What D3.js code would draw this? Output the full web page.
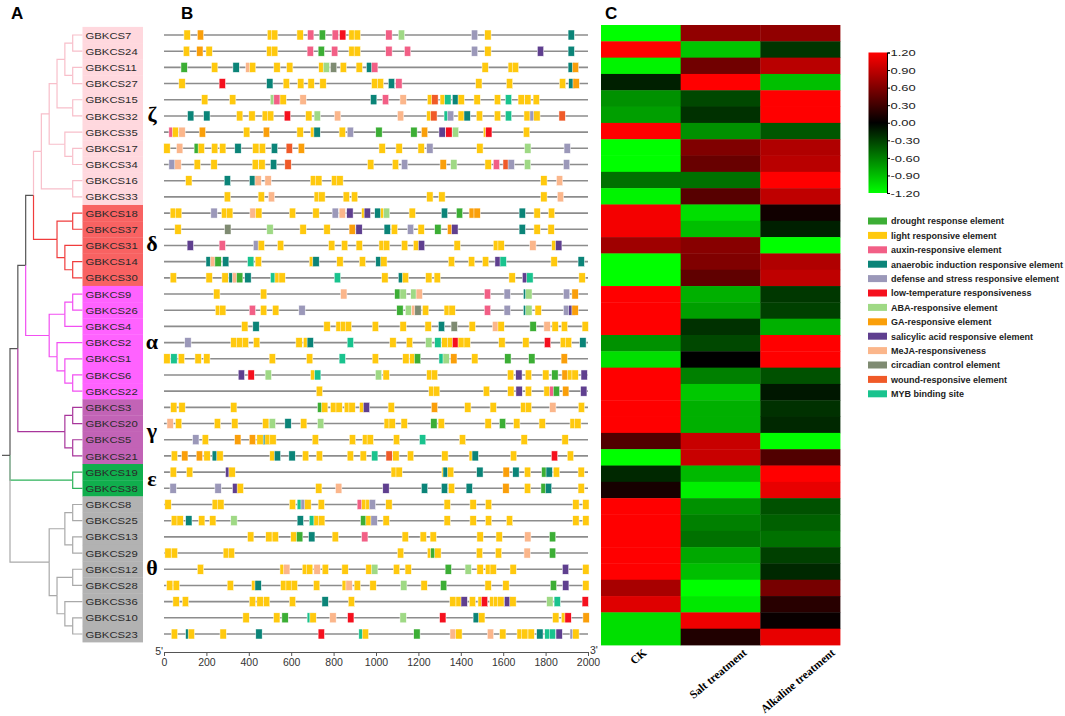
<!DOCTYPE html>
<html>
<head>
<meta charset="utf-8">
<script src="https://cdn.jsdelivr.net/npm/d3@7"></script>
<style>
  body { margin: 0; background: #fff; }
  text { font-family: Arial, "Liberation Sans", sans-serif; }
</style>
</head>
<body>
<svg id="fig" width="1065" height="716"></svg>
<script>
// ---- data ----
const genes = ["GBKCS7","GBKCS24","GBKCS11","GBKCS27","GBKCS15","GBKCS32","GBKCS35","GBKCS17","GBKCS34","GBKCS16","GBKCS33",
  "GBKCS18","GBKCS37","GBKCS31","GBKCS14","GBKCS30",
  "GBKCS9","GBKCS26","GBKCS4","GBKCS2","GBKCS1","GBKCS6","GBKCS22",
  "GBKCS3","GBKCS20","GBKCS5","GBKCS21",
  "GBKCS19","GBKCS38",
  "GBKCS8","GBKCS25","GBKCS13","GBKCS29","GBKCS12","GBKCS28","GBKCS36","GBKCS10","GBKCS23"];

const cladeSymbols = ["ζ","δ","α","γ","ε","θ"];
const cladeSizes = [11, 5, 7, 4, 2, 9];
const cladeBranchColors = ["#f8bfca","#f03c3c","#f24ff2","#a8359b","#2eb25a","#a9a9a9"];
const cladeBoxColors = ["#ffd8de","#f86262","#ff62ff","#c263b6","#10ae4d","#b2b2b2"];

// nested [level, child, child] ; leaves are gene names
const tree = [9,
  [8,
    [7,
      [6,
        [5,
          [4,
            [3, [2, [1,"GBKCS7","GBKCS24"], [1,"GBKCS11","GBKCS27"]], [1,"GBKCS15","GBKCS32"]],
            [2, "GBKCS35", [1,"GBKCS17","GBKCS34"]]],
          [1,"GBKCS16","GBKCS33"]],
        [3, [1,"GBKCS18","GBKCS37"], [2,"GBKCS31",[1,"GBKCS14","GBKCS30"]]]],
      [4, [2, [1,"GBKCS9","GBKCS26"], "GBKCS4"], [3, "GBKCS2", [2, "GBKCS1", [1,"GBKCS6","GBKCS22"]]]]],
    [2, [1,"GBKCS3","GBKCS20"], [1,"GBKCS5","GBKCS21"]]],
  [1,"GBKCS19","GBKCS38"],
  [4, [2, [1,"GBKCS8","GBKCS25"], [1,"GBKCS13","GBKCS29"]],
      [3, [1,"GBKCS12","GBKCS28"], [2,"GBKCS36",[1,"GBKCS10","GBKCS23"]]]]];

const elementNames = ["drought response element","light responsive element","auxin-responsive element",
  "anaerobic induction responsive element","defense and stress responsive element","low-temperature responsiveness",
  "ABA-responsive element","GA-responsive element","salicylic acid responsive element","MeJA-responsiveness",
  "circadian control element","wound-responsive element","MYB binding site"];
const elementCodes = ["D","L","X","N","F","T","A","G","S","M","C","W","Y"];
const elementColors = ["#3cae35","#ffc90e","#f25f86","#0b8478","#9b98b9","#f5101e","#9fd985","#fa9f0a",
  "#5f3f8f","#fbb68b","#7f8b72","#f05a28","#19c38e"];

// cis-element sites per gene (code + position in bp)
const elementSites = [
  "L109 G172 L502 L522 L642 X692 D747 X808 T843 L887 L912 X1061 A1120 F1465 L1528 N1921",
  "L106 G169 L213 L499 L522 X690 D742 X805 L887 L912 X1061 X1149 F1465 L1528 S1776 N1921",
  "D95 L239 N340 M400 L418 L533 L593 L745 A766 C800 L846 L921 N970 X994 L1515 L1638 L1658 N1921 G1941",
  "L85 T275 N499 L577 L645 L694 L750 L994 L1021 N1073 X1108 L1485 L1630 L1880 N1924 G1944",
  "L192 L324 A516 X533 L562 M656 N989 X1045 M1128 L1257 W1278 L1317 Y1339 N1375 L1402 L1477 L1573 Y1625 L1685 L1716 L1756",
  "N126 N202 L357 L415 L478 L503 T582 L683 A723 M819 M1116 L1254 W1273 Y1336 F1352 L1402 N1430 L1488 L1573 Y1625 L1713 F1741 L1759 W1878",
  "X38 L54 M85 G181 L390 G483 L642 L706 N722 L841 F879 D1014 D1179 G1229 S1312 T1344 A1375 L1521 T1532 L1710",
  "L14 M74 D157 L176 L239 L277 N349 L433 L464 N521 W591 G648 L1029 L1109 L1213 F1254 L1490 A1716 F1902",
  "F38 M66 L157 L236 L431 L462 N517 W585 L975 L1092 F1135 G1317 A1367 L1529 X1568 W1614 F1638 A1715 F1899",
  "L117 N299 N418 M444 M491 L705 L730 L805 L830 L1792 M1866",
  "L299 L459 M507 L723 L745 L860 L899 L1254 L1311 L1792 M1870",
  "L44 L69 F236 L286 L310 M420 L447 L606 L717 F808 M841 S877 L947 S959 N1009 L1037 A1050 L1171 N1323 D1394 G1454 G1477 N1690 L1760 L1828",
  "L66 C301 A500 L656 L769 G888 S920 N1053 L1087 F1163 L1213 D1292 G1352 S1372 N1690 L1760 L1826",
  "S124 X275 F436 L459 L550 L791 L852 L921 L1029 L1050 L1135 L1191 S1215 L1383 L1568 L1590 M1740 L1844 S1862",
  "N213 M233 D255 N291 Y409 L445 L700 N717 L830 L936 N1014 L1037 L1356 L1451 L1517 S1576 Y1600 L1840 N1968",
  "L44 L213 L288 N321 M337 D357 N396 Y517 L538 L557 Y818 L1042 N1120 L1139 L1249 L1289 L1642 S1705 Y1726 L1972",
  "L249 L470 M848 D1103 A1128 A1179 M1204 X1526 F1619 N1710 A1721 F1899 G1939",
  "L257 L277 X417 L470 L527 F651 D1113 A1153 M1182 C1198 L1234 L1336 L1359 X1526 F1619 N1710 A1721 L1765 F1899 S1924 G1939",
  "L381 N434 L769 L826 L848 L870 L997 L1128 L1246 N1309 C1369 L1454 M1564 L1590 D1741 M1807 L1845 L1889 L1987",
  "F113 L330 L357 L384 L437 L637 L672 N690 Y879 L1080 L1158 A1249 Y1292 L1325 L1352 T1375 L1402 L1430 L1594 L1707 T1809 L1884 L1908 N1976",
  "L14 Y47 L82 L161 L202 L511 L687 Y841 L997 L1141 L1174 D1196 Y1312 A1331 G1367 L1466 D1622 D1735 G1888",
  "S365 T411 A492 L706 Y725 A1012 L1048 L1254 L1276 L1635 S1674 L1719 L1801 D1844 G1892 L1917 L1939 S1982",
  "L733 L1264 L1286 L1521 L1636 S1675 L1719 L1807 X1834 D1851 G1895 S1980",
  "L46 L85 L329 D739 L758 L800 L826 L865 L887 L937 S955 L1072 G1276 L1433 L1553 L1697 L1719 M1834 L1969",
  "M29 L69 L252 L334 L480 A511 N585 L659 A739 L1053 L1076 L1133 D1273 L1308 L1529 D1597 L1664 L1784 L1930 L1952",
  "F150 L195 G348 G417 L453 N483 L491 L514 L714 L889 L951 L973 L1097 Y1220 L1408 L1699 L1892",
  "L49 G98 G167 L203 N242 L264 L514 N535 N604 L668 L733 L879 L940 Y994 W1062 L1094 L1163 L1325 L1454 N1468 L1649 T1842 L1917",
  "L44 L121 S305 L321 L1086 L1109 L1325 N1331 L1352 N1490 G1614 N1660 L1715 D1796 N1817 L1851 L1968",
  "F43 F255 S338 L360 L730 M824 S1047 N1229 N1323 L1356 N1440 G1613 L1715 D1793 N1814 L1968",
  "L19 L242 L268 L606 Y643 F661 L679 L742 X926 L947 L967 F983 L1061 L1336 L1458 L1531 L1943 L1990",
  "L49 L76 N117 L178 L230 A330 N643 Y700 L722 L744 D942 L967 F991 L1048 L1336 L1458 L1531 L1630 L1943 L1990",
  "L409 L495 L525 L613 D640 N697 L808 X947 L1138 L1223 L1270 L1491 L1581 M1716 D1833",
  "L19 L49 L294 L318 L1116 L1257 D1273 L1292 L1488 L1578 M1713 D1833",
  "L172 L562 M579 L667 L687 M722 L761 L854 L967 A994 L1097 L1152 D1341 A1435 L1491 L1531 L1553 L1647 S1894 L1990",
  "L27 L58 L313 L428 N444 L565 L590 L615 L720 L855 M873 L912 L986 A1131 L1227 D1319 L1529 L1613 D1837 S1895 L1990",
  "L57 L101 L417 L453 L484 L606 N760 L884 L1363 L1392 S1416 L1455 L1496 T1512 L1551 L1569 L1589 S1620 L1646 A1820 Y1855 T1987",
  "L387 L532 D571 Y690 L703 M797 T881 A1128 T1315 N1473 L1499 L1848 L1889 T1906 G1991",
  "L49 N117 L129 L279 N448 T742 Y934 L950 D1193 M1364 L1391 M1540 L1598 L1680 L1702 L1732 N1773 Y1811 Y1833 S1864 F1930 L1943"
];
const positionTicks = [0,200,400,600,800,1000,1200,1400,1600,1800,2000];
const siteWidth = 30; // bp

const treatments = ["CK","Salt treatment","Alkaline treatment"];
const ckValues = [-1.2,1.2,-1.15,-0.15,-0.68,-0.75,1.2,-1.2,-1.2,-0.53,-1.15,1.15,1.15,0.75,-1.2,-1.2,1.2,1.2,1.2,-0.68,-1.05,
  1.2,1.2,1.2,1.2,0.38,-1.2,-0.19,0.11,1.2,1.2,1.2,1.2,1.2,0.79,1.05,-1.05,-1.05];
const saltValues = [0.68,-0.93,0.53,1.2,-0.34,-0.23,-0.68,0.6,0.49,-0.53,0.41,-1.05,-0.9,0.64,0.6,0.45,-0.83,-0.75,-0.23,-0.34,0,
  -0.6,-0.94,-0.83,-0.83,0.94,0.94,-0.87,-1.13,-0.68,-0.6,-0.53,-0.79,-0.9,-1.2,-1.09,1.13,0.15];
const alkalineValues = [0.68,-0.25,0.87,-0.9,1.2,1.2,-0.41,0.83,0.87,1.2,0.9,0.08,-0.15,-1.2,0.83,0.9,-0.26,-0.3,-0.83,1.2,1.2,
  -0.38,-0.11,-0.23,-0.19,-1.2,0.38,1.2,1.09,-0.38,-0.45,-0.53,-0.3,-0.19,0.56,0.19,0.04,1.09];
const colorbarTicks = [1.2,0.9,0.6,0.3,0,-0.3,-0.6,-0.9,-1.2];

// ---- drawing ----
const svg = d3.select("#fig");

// panel letters
svg.selectAll(".panel").data([["A",11],["B",181],["C",605]]).enter().append("text")
  .attr("x", d => d[1]).attr("y", 19)
  .style("font-size", "17px").style("font-weight", "bold").text(d => d[0]);

// clade lookup
const cladeOf = {};
let k = 0;
cladeSizes.forEach((n, c) => { for (let i = 0; i < n; i++) cladeOf[genes[k++]] = c; });

const rowY = d3.scaleBand().domain(genes).range([26.9, 642.1]);
const ry = g => rowY(g) + rowY.bandwidth() / 2;

// ---- A: tree ----
const tx = d3.scaleLinear().domain([0, 1, 9]).range([82.5, 72.7, 10]);

function layout(node) {
  if (typeof node === "string") return { name: node, lv: 0, y: ry(node), clade: cladeOf[node] };
  const [lv, ...kids] = node;
  const children = kids.map(layout);
  const y = (children[0].y + children[children.length - 1].y) / 2;
  const clade = children.every(c => c.clade === children[0].clade) ? children[0].clade : -1;
  return { lv, children, y, clade };
}
const root = layout(tree);
const elbows = [];
(function walk(p) {
  if (!p.children) return;
  p.children.forEach(c => { elbows.push({ p, c }); walk(c); });
})(root);

const gTree = svg.append("g");
gTree.selectAll("path.br").data(elbows).enter().append("path")
  .attr("fill", "none")
  .attr("stroke", d => d.c.clade < 0 ? "#555" : cladeBranchColors[d.c.clade])
  .attr("stroke-width", 1.2)
  .attr("d", d => `M${tx(d.p.lv)},${d.p.y}V${d.c.y}H${tx(d.c.lv)}`);
gTree.append("path").attr("fill", "none").attr("stroke", "#555").attr("stroke-width", 1.2)
  .attr("d", `M2,${root.y}H${tx(root.lv)}`);

// label boxes
gTree.selectAll("rect.lb").data(genes).enter().append("rect")
  .attr("x", 82.5).attr("width", 60.5)
  .attr("y", d => rowY(d)).attr("height", rowY.bandwidth() + 0.3)
  .attr("fill", d => cladeBoxColors[cladeOf[d]]);
gTree.selectAll("text.lb").data(genes).enter().append("text")
  .attr("transform", d => `translate(85.5,${ry(d) + 3.6}) scale(1.18,1)`)
  .style("font-size", "9.6px").attr("fill", "#2a2a2a").text(d => d);

// clade symbols
let start = 0;
const cladeCenters = cladeSizes.map(n => { const c = (ry(genes[start]) + ry(genes[start + n - 1])) / 2; start += n; return c; });
svg.selectAll("text.sym").data(cladeSymbols).enter().append("text")
  .attr("x", 152).attr("y", (d, i) => cladeCenters[i] + 6)
  .attr("text-anchor", "middle")
  .style("font-family", "'Liberation Serif','DejaVu Serif',serif")
  .style("font-size", "22px").style("font-weight", "bold").text(d => d);

// ---- B: promoter elements ----
const bx = d3.scaleLinear().domain([0, 2000]).range([164, 588]);
const gB = svg.append("g");
gB.selectAll("line.bb").data(genes).enter().append("line")
  .attr("x1", bx(0)).attr("x2", bx(2000))
  .attr("y1", d => ry(d)).attr("y2", d => ry(d))
  .attr("stroke", "#8c8c8c").attr("stroke-width", 1.6);

const sites = [];
elementSites.forEach((s, i) => s.split(" ").forEach(t => {
  sites.push({ gene: genes[i], type: elementCodes.indexOf(t[0]), pos: +t.slice(1) });
}));
const sw = bx(siteWidth) - bx(0);
gB.selectAll("rect.site").data(sites).enter().append("rect")
  .attr("x", d => bx(d.pos) - sw / 2).attr("width", sw)
  .attr("y", d => ry(d.gene) - 5).attr("height", 10)
  .attr("fill", d => elementColors[d.type])
  .attr("stroke", "#fff").attr("stroke-width", 0.5);

const axB = svg.append("g").attr("transform", "translate(0,652)")
  .call(d3.axisBottom(bx).tickValues(positionTicks).tickSize(4).tickFormat(d3.format("d")));
axB.select(".domain").attr("stroke", "#555");
axB.selectAll(".tick line").attr("stroke", "#555");
axB.selectAll(".tick text").attr("fill", "#333").style("font-size", "10.5px").style("font-family", "Arial, 'Liberation Sans', sans-serif");
svg.append("text").attr("x", 163).attr("y", 655).attr("text-anchor", "end").style("font-size", "10.5px").attr("fill", "#333").text("5'");
svg.append("text").attr("x", 590).attr("y", 654).style("font-size", "10.5px").attr("fill", "#333").text("3'");

// ---- C: heatmap ----
const hx = d3.scaleBand().domain(treatments).range([601, 840]);
const hy = d3.scaleBand().domain(genes).range([25, 645]);
const heatColor = d3.scaleLinear().domain([-1.2, 0, 1.2]).range(["#00ff00", "#000000", "#ff0000"]).clamp(true);
const cells = [];
[ckValues, saltValues, alkalineValues].forEach((vals, j) =>
  vals.forEach((v, i) => cells.push({ t: treatments[j], g: genes[i], v })));
svg.append("g").selectAll("rect").data(cells).enter().append("rect")
  .attr("x", d => hx(d.t)).attr("width", hx.bandwidth() + 0.4)
  .attr("y", d => hy(d.g)).attr("height", hy.bandwidth() + 0.4)
  .attr("fill", d => heatColor(d.v));

const colLab = svg.append("g").selectAll("text").data(treatments).enter().append("text")
  .attr("text-anchor", "middle")
  .style("font-family", "'Liberation Serif','Times New Roman',serif")
  .style("font-size", "11.5px").style("font-weight", "bold").text(d => d);
colLab.attr("transform", function (d) {
  const L = this.getComputedTextLength();
  const a = 40 * Math.PI / 180;
  return `translate(${hx(d) + hx.bandwidth() / 2},${654 + L / 2 * Math.sin(a)}) rotate(-40)`;
});

// colour bar
const defs = svg.append("defs");
const grad = defs.append("linearGradient").attr("id", "cb").attr("x1", 0).attr("x2", 0).attr("y1", 0).attr("y2", 1);
grad.selectAll("stop").data([[0, 1.2], [0.5, 0], [1, -1.2]]).enter().append("stop")
  .attr("offset", d => d[0]).attr("stop-color", d => heatColor(d[1]));
const cb = d3.scaleLinear().domain([-1.2, 1.2]).range([193, 52.5]);
svg.append("rect").attr("x", 868.5).attr("y", 52.5).attr("width", 18.5).attr("height", 140.5).attr("fill", "url(#cb)");
const axC = svg.append("g").attr("transform", "translate(887,0)")
  .call(d3.axisRight(cb).tickValues(colorbarTicks).tickSize(3).tickFormat(d => d.toFixed(2)));
axC.select(".domain").attr("stroke", "#000");
axC.selectAll(".tick text").attr("fill", "#222").style("font-size", "9.8px")
  .style("font-family", "Arial, 'Liberation Sans', sans-serif")
  .attr("x", 0).attr("dx", null)
  .attr("transform", "translate(3.5,0) scale(1.32,1)");

// element legend
const lg = svg.append("g").selectAll("g").data(elementNames).enter().append("g")
  .attr("transform", (d, i) => `translate(868,${221 + i * 14.4})`);
lg.append("rect").attr("x", 0).attr("y", -3.5).attr("width", 19).attr("height", 7)
  .attr("fill", (d, i) => elementColors[i]);
lg.append("text").attr("x", 23).attr("y", 3.3)
  .style("font-size", "9px").style("font-weight", "bold").attr("fill", "#222").text(d => d);
</script>
</body>
</html>
